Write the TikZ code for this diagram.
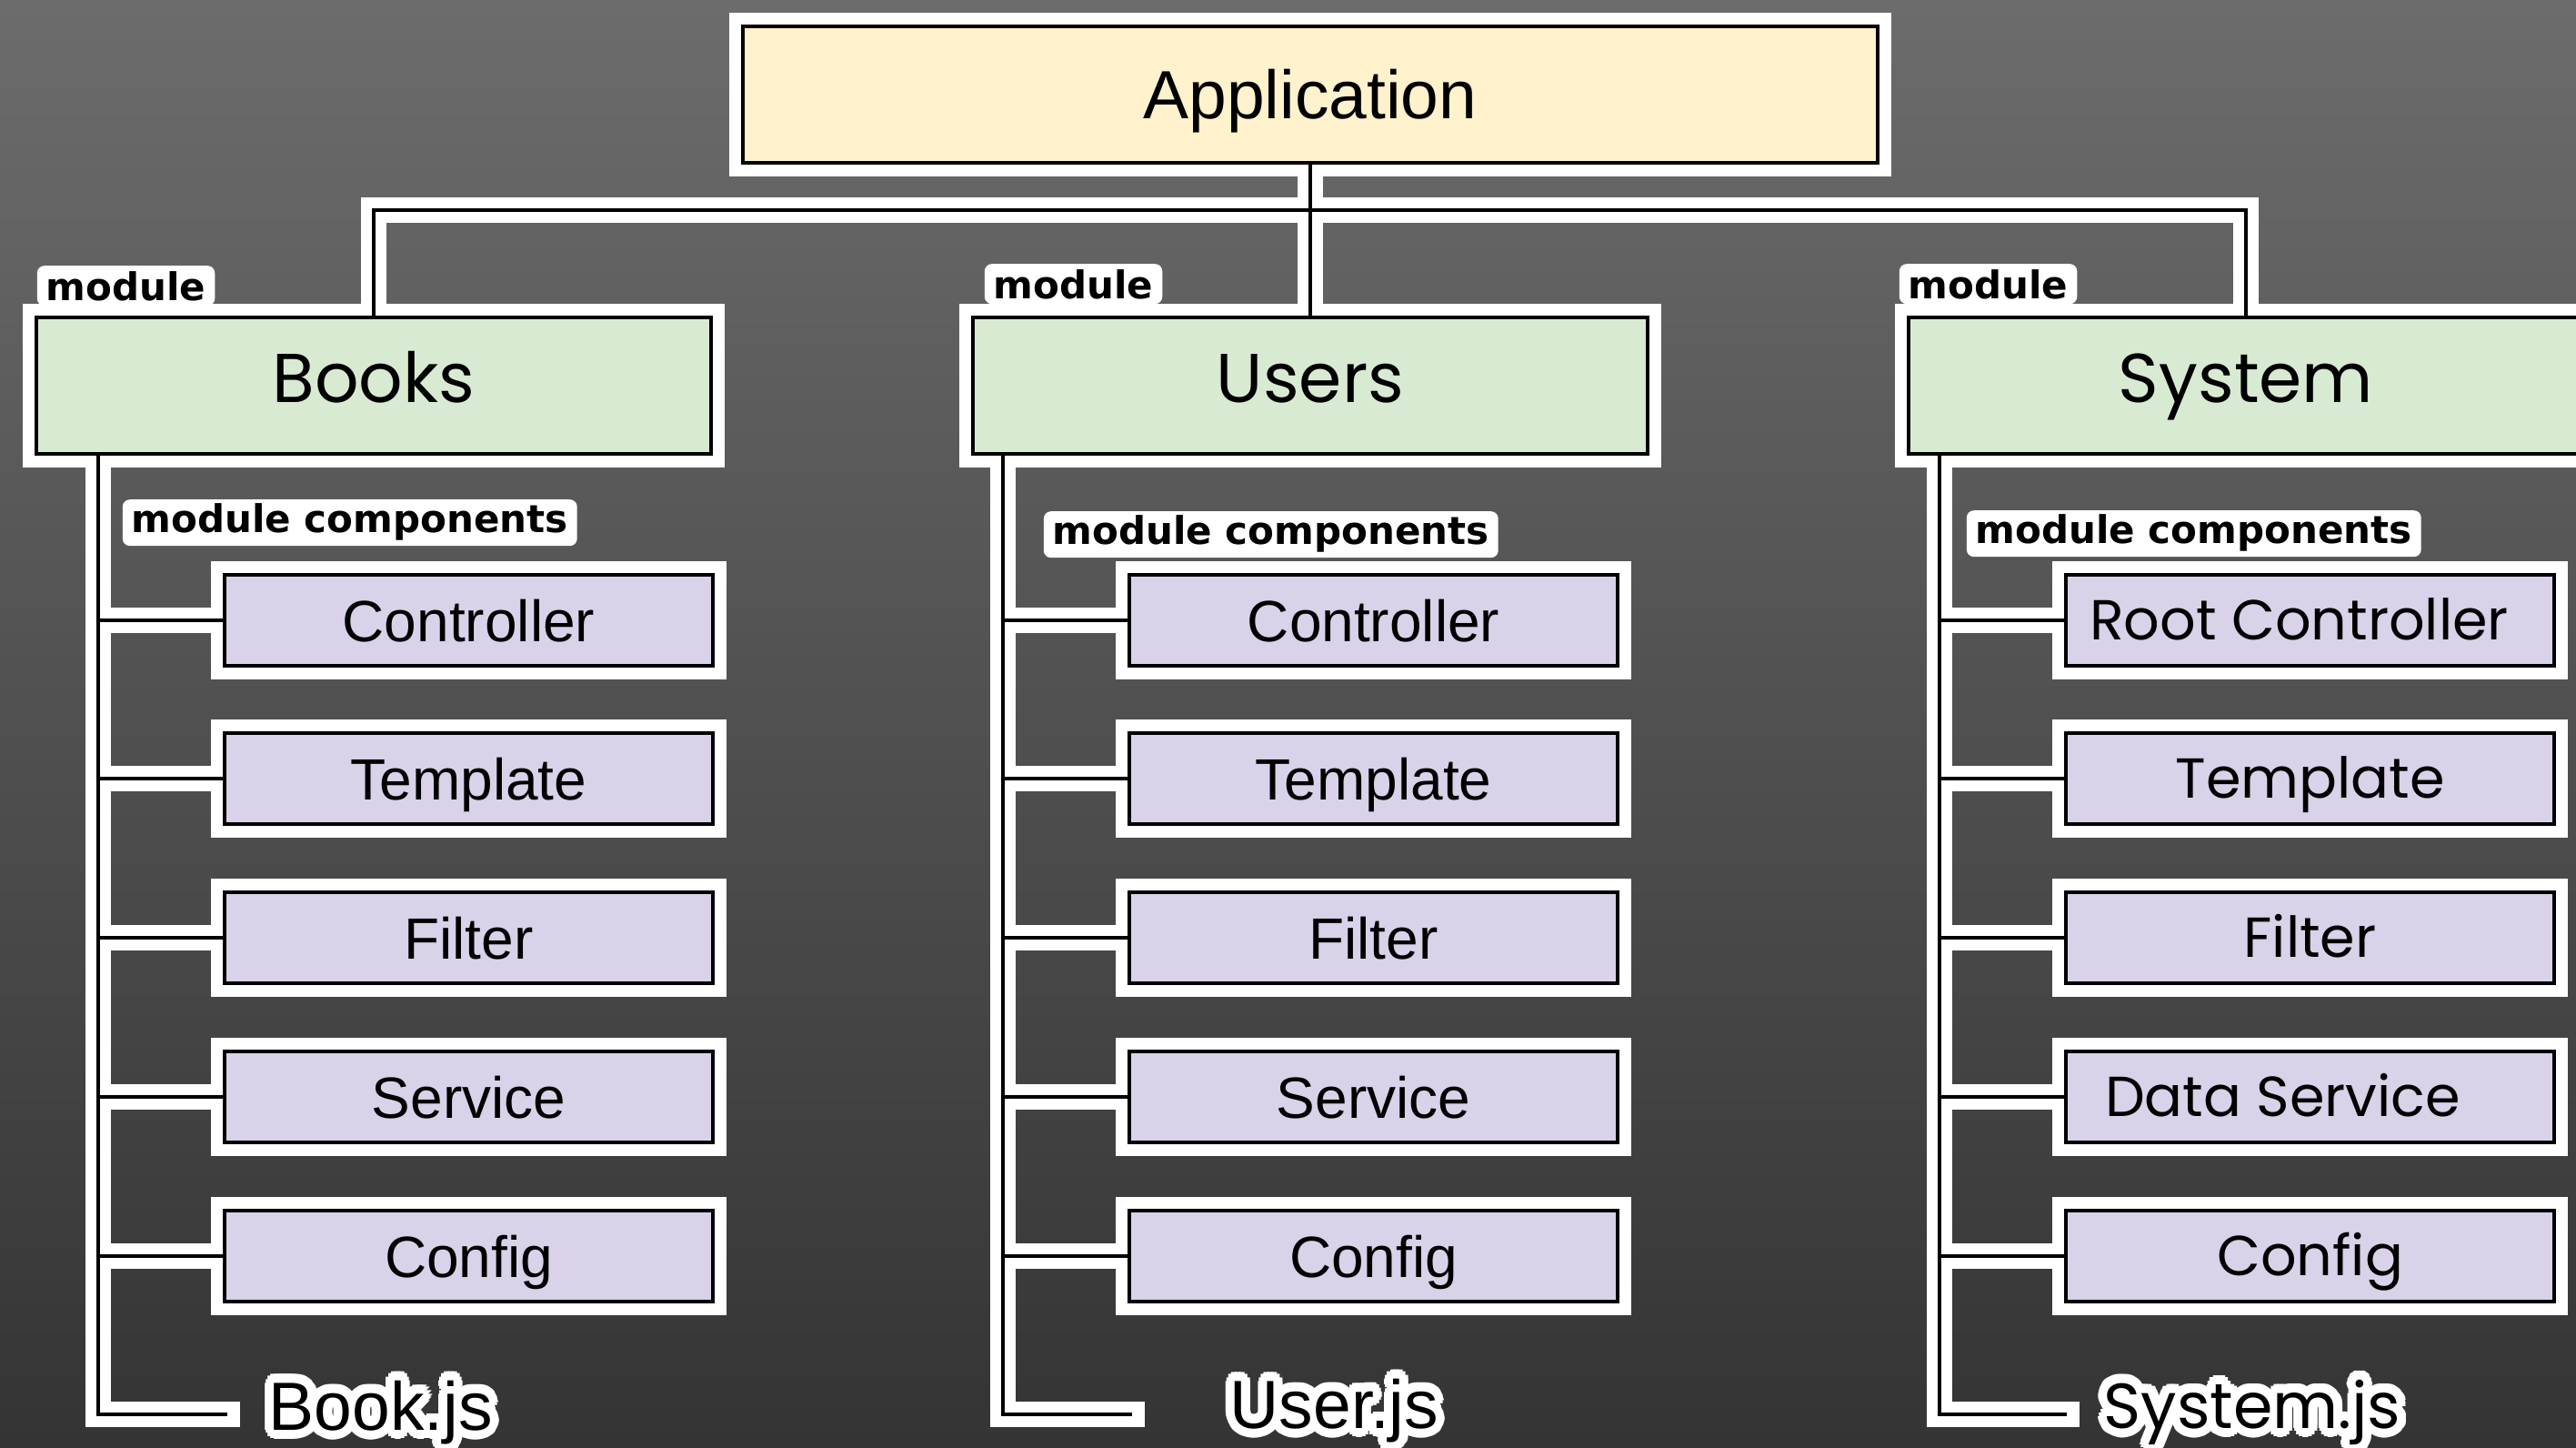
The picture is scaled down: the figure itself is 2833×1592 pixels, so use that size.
\documentclass[tikz,border=0pt]{standalone}
\usepackage{fontspec}
\setmainfont{Liberation Sans}
\newfontfamily\geo{Poppins}
\newfontfamily\tagfont{DejaVu Sans}

\definecolor{bgtop}{RGB}{108,108,108}
\definecolor{bgbot}{RGB}{52,52,52}
\definecolor{appfill}{HTML}{FFF2CC}
\definecolor{modfill}{HTML}{D9EAD3}
\definecolor{compfill}{HTML}{D9D2E9}

\pgfdeclarelayer{backdrop}
\pgfdeclarelayer{halo}
\pgfdeclarelayer{wires}
\pgfsetlayers{backdrop,halo,wires,main}

\tikzset{
  box/.style={draw=black, line width=0.9pt, inner sep=0pt},
  appbox/.style={box, fill=appfill, minimum width=312pt, minimum height=37.5pt,
    font=\fontsize{18.75}{20}\selectfont, text height=13.4pt, text depth=0pt},
  modbox/.style={box, fill=modfill, minimum width=185.5pt, minimum height=37.5pt,
    font=\geo\fontsize{19}{21}\selectfont, text height=13.3pt, text depth=4pt},
  compbox/.style={box, fill=compfill, minimum width=134.25pt, minimum height=25pt,
    font=\fontsize{16}{18}\selectfont, text height=11.5pt, text depth=0pt},
  geocomp/.style={compbox, font=\geo\fontsize{15.5}{17}\selectfont, text height=10.9pt},
  tag/.style={fill=white, rounded corners=2pt, inner xsep=2.5pt, inner ysep=0pt,
    anchor=south west, font=\tagfont\bfseries\fontsize{10.5}{12}\selectfont},
  modtag/.style={tag, minimum height=11pt, text height=8pt, text depth=0pt},
  comptag/.style={tag, minimum height=12.75pt, text height=8pt, text depth=2.4pt},
  jslabel/.style={anchor=base west, inner sep=0pt, font=\fontsize{18.75}{20}\selectfont},
  geojs/.style={anchor=base west, inner sep=0pt, font=\geo\fontsize{17.5}{20}\selectfont},
  boxhalo/.style={draw=white, line width=6.5pt},
  wirehalo/.style={draw=white, line width=7pt, line cap=rect},
  wireline/.style={draw=black, line width=0.9pt},
}

% connectors, drawn once as white halo and once as black line
\newcommand\wiring{%
  \draw[conn] (app.south) -- (users.north);
  \draw[conn] (app.south |- bus) -| (books.north);
  \draw[conn] (app.south |- bus) -| (system.north);
  \draw[conn] (books.south -| bt) -- (bt |- bend) -- (bend);
  \draw[conn] (users.south -| ut) -- (ut |- uend) -- (uend);
  \draw[conn] (system.south -| st) -- (st |- send) -- (send);
  \foreach \c in {b1,b2,b3,b4,b5} \draw[conn] (\c.west -| bt) -- (\c.west);
  \foreach \c in {u1,u2,u3,u4,u5} \draw[conn] (\c.west -| ut) -- (\c.west);
  \foreach \c in {s1,s2,s3,s4,s5} \draw[conn] (\c.west -| st) -- (\c.west);
}

% white glow behind a label
\newcommand\glowcopies[3]{%
  \foreach \a in {0,22.5,...,337.5}
    \node[#1, text=white, xshift={2.5pt*cos(\a)}, yshift={2.5pt*sin(\a)}] at (#2) {#3};
  \foreach \a in {0,45,...,315}
    \node[#1, text=white, xshift={1.3pt*cos(\a)}, yshift={1.3pt*sin(\a)}] at (#2) {#3};
}

\begin{document}
\begin{tikzpicture}[x=0.25pt, y=-0.25pt]
\useasboundingbox (0,0) rectangle (2833,1592);

% top level
\node[appbox] (app) at (1441,104) {Application};

% modules
\node[modbox] (books)  at (411,424)  {Books};
\node[modbox] (users)  at (1441,424) {Users};
\node[modbox] (system) at (2470,424) {System};

\node[modtag] (tagb) at (40,337)   {module};
\node[modtag] (tagu) at (1082,335) {module};
\node[modtag] (tags) at (2088,335) {module};

\node[comptag] (ctagb) at (134,601)  {module components};
\node[comptag] (ctagu) at (1147,614) {module components};
\node[comptag] (ctags) at (2162,613) {module components};

% Books components
\node[compbox] (b1) at (515.5,682)  {Controller};
\node[compbox] (b2) at (515.5,856)  {Template};
\node[compbox] (b3) at (515.5,1031) {Filter};
\node[compbox] (b4) at (515.5,1206) {Service};
\node[compbox] (b5) at (515.5,1381) {Config};

% Users components
\node[compbox] (u1) at (1510.5,682)  {Controller};
\node[compbox] (u2) at (1510.5,856)  {Template};
\node[compbox] (u3) at (1510.5,1031) {Filter};
\node[compbox] (u4) at (1510.5,1206) {Service};
\node[compbox] (u5) at (1510.5,1381) {Config};

% System components
\node[geocomp] (s1) at (2540.5,682)  {Root Controller\hspace*{6pt}};
\node[geocomp] (s2) at (2540.5,856)  {Template};
\node[geocomp] (s3) at (2540.5,1031) {Filter};
\node[geocomp] (s4) at (2540.5,1206) {Data Service\hspace*{15pt}};
\node[geocomp] (s5) at (2540.5,1381) {Config};

% file names
\coordinate (bjs) at (295,1572);
\coordinate (ujs) at (1352,1570);
\coordinate (sjs) at (2313,1570);
\node[jslabel] (bookjs) at (bjs) {Book.js};
\node[jslabel] (userjs) at (ujs) {User.js};
\node[geojs] (systemjs) at (sjs) {System.js};

% helper points for the bus and the trunks
\coordinate (bus) at (0,231);
\coordinate (bt) at (108,0);
\coordinate (ut) at (1103,0);
\coordinate (st) at (2133,0);
\coordinate (bend) at (250,1555);
\coordinate (uend) at (1245,1555);
\coordinate (send) at (2273,1555);

\begin{pgfonlayer}{backdrop}
  \shade[top color=bgtop, bottom color=bgbot] (0,0) rectangle (2833,1592);
\end{pgfonlayer}

\begin{pgfonlayer}{halo}
  \foreach \n in {app,books,users,system,b1,b2,b3,b4,b5,u1,u2,u3,u4,u5,s1,s2,s3,s4,s5}
    \path[boxhalo] (\n.south west) rectangle (\n.north east);
  \tikzset{conn/.style={wirehalo}}
  \wiring
  \glowcopies{jslabel}{bjs}{Book.js}
  \glowcopies{jslabel}{ujs}{User.js}
  \glowcopies{geojs}{sjs}{System.js}
\end{pgfonlayer}

\begin{pgfonlayer}{wires}
  \tikzset{conn/.style={wireline}}
  \wiring
\end{pgfonlayer}
\end{tikzpicture}
\end{document}
